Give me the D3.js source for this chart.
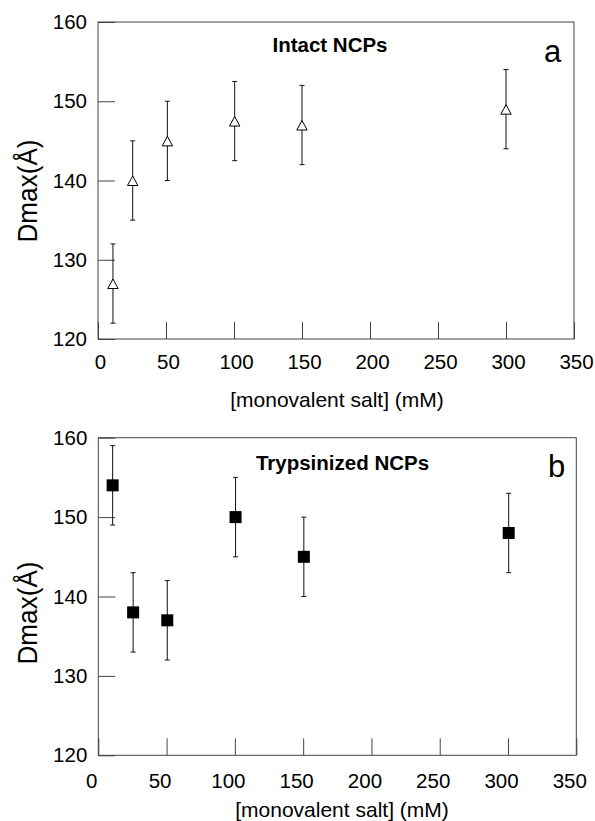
<!DOCTYPE html>
<html>
<head>
<meta charset="utf-8">
<script src="https://cdn.jsdelivr.net/npm/d3@7"></script>
<style>
  html, body { margin: 0; padding: 0; background: #fff; }
  svg { display: block; }
  text { font-family: "Liberation Sans", Arial, sans-serif; fill: #000; }
</style>
</head>
<body>
<svg id="chart" width="595" height="821"></svg>
<script>
// ---- data ----
const xTickValues = [0, 50, 100, 150, 200, 250, 300, 350];
const yTickValues = [120, 130, 140, 150, 160];

const intactSalt = [11, 25.5, 51, 100.5, 150, 300];
const intactDmax = [127, 140, 145, 147.5, 147, 149];
const intactErr  = [5, 5, 5, 5, 5, 5];

const trypSalt = [10.5, 25.5, 50.5, 100.5, 150.5, 300.5];
const trypDmax = [154, 138, 137, 150, 145, 148];
const trypErr  = [5, 5, 5, 5, 5, 5];

const xLabel = "[monovalent salt] (mM)";
const yLabel = "Dmax(Å)";

const svg = d3.select("#chart");

const panels = [
  { salt: intactSalt, dmax: intactDmax, err: intactErr, title: "Intact NCPs", letter: "a", marker: "triangle",
    x0: 98, x1: 574, y0: 339, y1: 22,
    xLabPad: 15.4, xLabDx: 2, xTitle: [337, 406.5], yTitle: [37, 191],
    titlePos: [330, 51.7], letterPos: [552.5, 62.3] },
  { salt: trypSalt, dmax: trypDmax, err: trypErr, title: "Trypsinized NCPs", letter: "b", marker: "square",
    x0: 98.3, x1: 576.3, y0: 755.3, y1: 437.7,
    xLabPad: 18.4, xLabDx: -7, xTitle: [342, 816.5], yTitle: [36.7, 613],
    titlePos: [342.5, 470], letterPos: [556.5, 476.7] }
];

panels.forEach(p => {
  const x = d3.scaleLinear().domain([0, 350]).range([p.x0, p.x1]);
  const y = d3.scaleLinear().domain([120, 160]).range([p.y0, p.y1]);
  const g = svg.append("g");

  // frame
  g.append("rect")
    .attr("x", p.x0).attr("y", p.y1)
    .attr("width", p.x1 - p.x0).attr("height", p.y0 - p.y1)
    .attr("fill", "none").attr("stroke", "#444").attr("stroke-width", 1);

  // x axis
  const xa = g.append("g").attr("transform", `translate(0,${p.y0})`)
    .call(d3.axisBottom(x).tickValues(xTickValues).tickSizeInner(-17).tickSizeOuter(0)
      .tickPadding(p.xLabPad).tickFormat(d3.format("d")));
  xa.select(".domain").remove();
  xa.selectAll(".tick line").attr("stroke", "#444");
  xa.selectAll(".tick text").attr("font-size", 20.5).attr("font-family", "Liberation Sans, Arial, sans-serif")
    .attr("fill", "#000").attr("dx", p.xLabDx);

  // y axis
  const ya = g.append("g").attr("transform", `translate(${p.x0},0)`)
    .call(d3.axisLeft(y).tickValues(yTickValues).tickSizeInner(-17).tickSizeOuter(0)
      .tickPadding(11).tickFormat(d3.format("d")));
  ya.select(".domain").remove();
  ya.selectAll(".tick line").attr("stroke", "#444");
  ya.selectAll(".tick text").attr("font-size", 20.5).attr("font-family", "Liberation Sans, Arial, sans-serif")
    .attr("fill", "#000");

  // axis titles
  g.append("text").attr("x", p.xTitle[0]).attr("y", p.xTitle[1])
    .attr("text-anchor", "middle").attr("font-size", 21).text(xLabel);
  g.append("text")
    .attr("transform", `translate(${p.yTitle[0]},${p.yTitle[1]}) rotate(-90)`)
    .attr("text-anchor", "middle").attr("font-size", 28)
    .attr("textLength", 103).attr("lengthAdjust", "spacingAndGlyphs")
    .text(yLabel);

  // panel title and letter
  g.append("text").attr("x", p.titlePos[0]).attr("y", p.titlePos[1])
    .attr("text-anchor", "middle").attr("font-size", 20.5).attr("font-weight", "bold").text(p.title);
  g.append("text").attr("x", p.letterPos[0]).attr("y", p.letterPos[1])
    .attr("text-anchor", "middle").attr("font-size", 31).text(p.letter);

  const data = p.salt.map((s, i) => ({ s, d: p.dmax[i], e: p.err[i] }));

  // error bars
  const eb = g.append("g").attr("stroke", "#111").attr("stroke-width", 1);
  data.forEach(d => {
    const cx = x(d.s);
    eb.append("line").attr("x1", cx).attr("x2", cx).attr("y1", y(d.d + d.e)).attr("y2", y(d.d - d.e));
    eb.append("line").attr("x1", cx - 2.5).attr("x2", cx + 2.5).attr("y1", y(d.d + d.e)).attr("y2", y(d.d + d.e));
    eb.append("line").attr("x1", cx - 2.5).attr("x2", cx + 2.5).attr("y1", y(d.d - d.e)).attr("y2", y(d.d - d.e));
  });

  // markers
  if (p.marker === "triangle") {
    g.selectAll("path.mk").data(data).join("path")
      .attr("class", "mk")
      .attr("d", d => `M${x(d.s)},${y(d.d) - 4.5} L${x(d.s) + 5.2},${y(d.d) + 5} L${x(d.s) - 5.2},${y(d.d) + 5} Z`)
      .attr("fill", "#fff").attr("stroke", "#000").attr("stroke-width", 1);
  } else {
    g.selectAll("rect.mk").data(data).join("rect")
      .attr("class", "mk")
      .attr("x", d => x(d.s) - 6).attr("y", d => y(d.d) - 6)
      .attr("width", 12).attr("height", 12)
      .attr("fill", "#000");
  }
});
</script>
</body>
</html>
